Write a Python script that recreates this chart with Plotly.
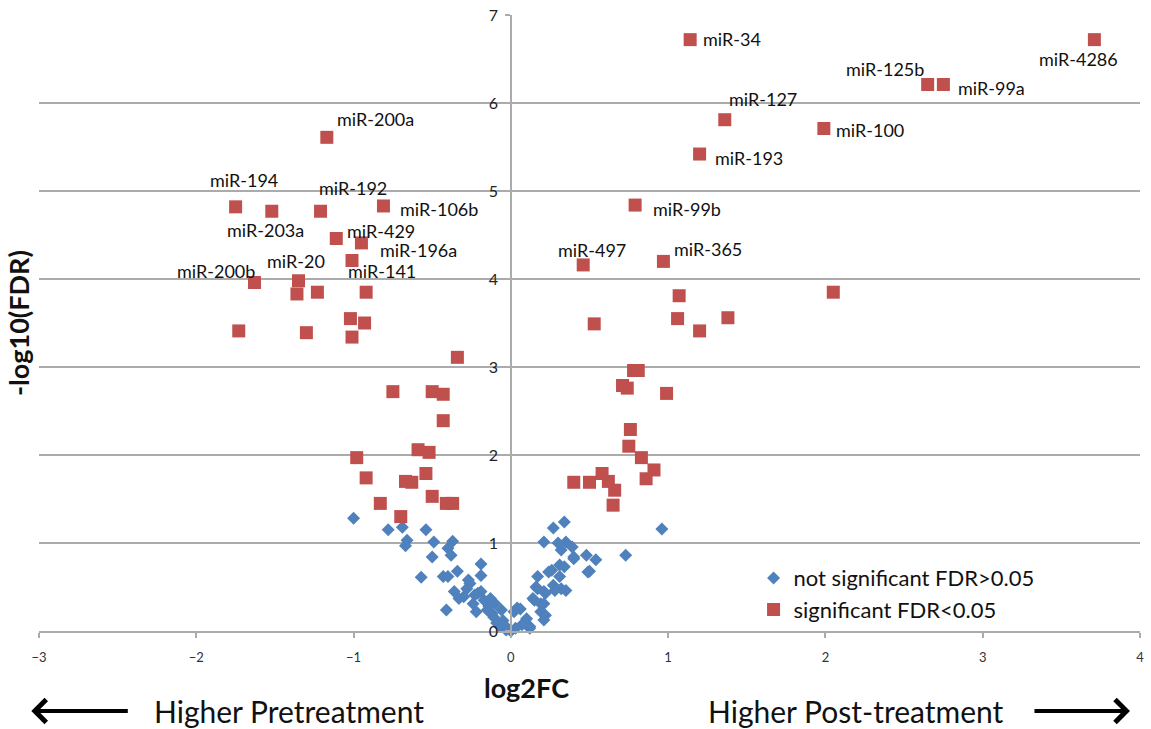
import plotly.graph_objects as go

# ---- data ----
ns_x = [-1.00, -0.78, -0.69, -0.54, -0.66, -0.67, -0.49, -0.37, -0.40, -0.38,
        -0.50, -0.57, -0.43, -0.40, -0.34, -0.19, -0.19, -0.26, -0.28, -0.30,
        -0.33, -0.21, -0.19, -0.23, -0.41, -0.24, -0.17, -0.13, -0.10, -0.14,
        -0.22, -0.15, -0.06, -0.11, -0.05, -0.07, -0.03, -0.09, 0.00, 0.03,
        -0.02, 0.02, 0.06, 0.10, 0.12, 0.07, 0.04, 0.14, 0.16, 0.17,
        0.19, 0.22, 0.21, 0.24, 0.27, 0.31, 0.32, 0.35, 0.32, 0.40,
        0.48, 0.49, 0.54, 0.50, 0.73, 0.96, 0.34, 0.27, 0.21, 0.30,
        0.35, 0.39, 0.40, 0.34, 0.26, 0.31, 0.22, 0.17, 0.15, 0.21,
        0.19, 0.21, 0.12, 0.28, -0.27, -0.36, -0.12]
ns_y = [1.28, 1.15, 1.18, 1.15, 1.03, 0.97, 1.01, 1.02, 0.94, 0.86,
        0.84, 0.61, 0.62, 0.62, 0.68, 0.76, 0.63, 0.54, 0.48, 0.39,
        0.37, 0.43, 0.45, 0.41, 0.24, 0.31, 0.35, 0.37, 0.31, 0.28,
        0.22, 0.24, 0.24, 0.16, 0.12, 0.05, 0.01, 0.09, 0.00, 0.03,
        0.03, 0.22, 0.25, 0.14, 0.03, 0.07, 0.26, 0.37, 0.50, 0.62,
        0.31, 0.18, 0.45, 0.67, 0.52, 0.75, 0.48, 0.46, 0.92, 0.84,
        0.86, 0.67, 0.81, 0.68, 0.86, 1.16, 1.24, 1.17, 1.01, 1.00,
        1.01, 0.955, 0.82, 0.73, 0.69, 0.62, 0.43, 0.48, 0.35, 0.31,
        0.22, 0.125, 0.05, 0.46, 0.58, 0.45, 0.20]

sig_x = [-1.17, -1.75, -1.52, -1.21, -0.81, -1.11, -0.95, -1.01, -1.63, -1.35,
         -1.36, -1.23, -0.92, -1.73, -1.30, -1.02, -0.93, -1.01,
         -0.34, -0.75, -0.50, -0.43, -0.43, -0.59, -0.52, -0.98, -0.92, -0.54,
         -0.67, -0.63, -0.50, -0.41, -0.37, -0.83, -0.70,
         1.14, 3.71, 2.65, 2.75, 1.36, 1.99, 1.20, 0.79, 0.46, 0.97,
         1.07, 1.06, 1.20, 1.38, 2.05, 0.53, 0.78, 0.81, 0.71, 0.74,
         0.99, 0.76, 0.75, 0.83, 0.91, 0.86, 0.40, 0.50, 0.58, 0.62,
         0.66, 0.65]
sig_y = [5.61, 4.82, 4.77, 4.77, 4.83, 4.46, 4.41, 4.21, 3.96, 3.98,
         3.83, 3.85, 3.85, 3.41, 3.39, 3.55, 3.50, 3.34,
         3.11, 2.72, 2.72, 2.69, 2.39, 2.06, 2.03, 1.97, 1.74, 1.79,
         1.70, 1.69, 1.53, 1.45, 1.45, 1.45, 1.30,
         6.72, 6.72, 6.21, 6.21, 5.81, 5.71, 5.42, 4.84, 4.16, 4.20,
         3.81, 3.55, 3.41, 3.56, 3.85, 3.49, 2.96, 2.96, 2.79, 2.76,
         2.70, 2.29, 2.10, 1.97, 1.83, 1.73, 1.69, 1.69, 1.79, 1.70,
         1.60, 1.43]
sig_labels = ["miR-200a", "miR-194", "miR-203a", "miR-192", "miR-106b", "miR-429",
              "miR-196a", "miR-141", "miR-200b", "miR-20"] + [""] * 25 + \
             ["miR-34", "miR-4286", "miR-125b", "miR-99a", "miR-127", "miR-100",
              "miR-193", "miR-99b", "miR-497", "miR-365"] + [""] * 22

x_ticks = [-3, -2, -1, 0, 1, 2, 3, 4]
y_ticks = [0, 1, 2, 3, 4, 5, 6, 7]

# label placement offsets (pixels, right / down)
label_offsets = {
    "miR-200a": (49, -18), "miR-194": (8, -27), "miR-203a": (-6, 19),
    "miR-192": (32, -23), "miR-106b": (56, 3), "miR-429": (45, -8),
    "miR-196a": (57, 7), "miR-141": (30, 10), "miR-200b": (-38, -12),
    "miR-20": (-3, -20), "miR-34": (42, -1), "miR-4286": (-16, 19),
    "miR-125b": (-43, -16), "miR-99a": (48, 3), "miR-127": (38, -21),
    "miR-100": (46, 1), "miR-193": (49, 4), "miR-99b": (52, 4),
    "miR-497": (9, -15), "miR-365": (45, -12),
}

FONT = "Lato"
BLUE = "#4F81BD"
RED = "#C0504D"
GRID = "#ABABAB"

fig = go.Figure()
fig.add_trace(go.Scatter(
    x=ns_x, y=ns_y, mode="markers", name="not significant FDR>0.05", legendgroup="a",
    marker=dict(symbol="diamond", size=10, color=BLUE, line=dict(width=0)),
    cliponaxis=False))
fig.add_trace(go.Scatter(
    x=sig_x, y=sig_y, mode="markers", name="significant FDR<0.05", legendgroup="b",
    marker=dict(symbol="square", size=13, color=RED, line=dict(width=0)),
    cliponaxis=False))

annotations = []
for x, y, lab in zip(sig_x, sig_y, sig_labels):
    if not lab:
        continue
    dx, dy = label_offsets[lab]
    annotations.append(dict(x=x, y=y, xref="x", yref="y", text=lab, showarrow=False,
                            xshift=dx, yshift=-dy, xanchor="center", yanchor="middle",
                            font=dict(family=FONT, size=18, color="#111")))

# y-axis title
annotations.append(dict(x=-0.0191, y=0.5, xref="paper", yref="paper", text="<b>-log10(FDR)</b>",
                        textangle=-90, showarrow=False, xanchor="center", yanchor="middle",
                        font=dict(family=FONT, size=27, color="#111")))
# x-axis title
annotations.append(dict(x=0.443, y=-0.0925, xref="paper", yref="paper", text="<b>log2FC</b>",
                        showarrow=False, xanchor="center", yanchor="middle",
                        font=dict(family=FONT, size=27, color="#111")))
# bottom direction labels
annotations.append(dict(x=0.227, y=-0.1298, xref="paper", yref="paper", text="Higher Pretreatment",
                        showarrow=False, xanchor="center", yanchor="middle",
                        font=dict(family=FONT, size=30, color="#111")))
annotations.append(dict(x=0.7416, y=-0.1298, xref="paper", yref="paper", text="Higher Post-treatment",
                        showarrow=False, xanchor="center", yanchor="middle",
                        font=dict(family=FONT, size=30, color="#111")))
# arrows
annotations.append(dict(x=-0.007, y=-0.1298, xref="paper", yref="paper", text="",
                        showarrow=True, ax=98, ay=0, arrowhead=4, arrowsize=1.1,
                        arrowwidth=4, arrowcolor="#000"))
annotations.append(dict(x=0.9909, y=-0.1298, xref="paper", yref="paper", text="",
                        showarrow=True, ax=-97, ay=0, arrowhead=4, arrowsize=1.1,
                        arrowwidth=4, arrowcolor="#000"))

fig.update_layout(
    width=1151, height=729,
    margin=dict(l=39, r=11, t=15, b=98),
    paper_bgcolor="white", plot_bgcolor="white",
    font=dict(family=FONT, color="#222"),
    showlegend=True,
    legend=dict(x=0.649, y=0.12, xanchor="left", yanchor="top",
                font=dict(family=FONT, size=22, color="#111"),
                bgcolor="rgba(0,0,0,0)", tracegroupgap=0, itemwidth=30),
    xaxis=dict(range=[-3, 4], tickvals=x_ticks, showgrid=False, zeroline=False,
               showline=True, linecolor=GRID, linewidth=1.5, automargin=False,
               ticks="outside", ticklen=5, tickcolor=GRID, tickwidth=1.5,
               ticklabelstandoff=9,
               tickfont=dict(family=FONT, size=13, color="#333")),
    yaxis=dict(range=[0, 7], tickvals=y_ticks, showgrid=True, gridcolor=GRID, gridwidth=1.5,
               zeroline=False, showline=True, linecolor=GRID, linewidth=1.5,
               anchor="free", position=3 / 7, automargin=False,
               ticks="outside", ticklen=5, tickcolor=GRID, tickwidth=1.5,
               ticklabelstandoff=4,
               tickfont=dict(family=FONT, size=16, color="#222")),
    annotations=annotations,
)

fig.write_html("out.html")
